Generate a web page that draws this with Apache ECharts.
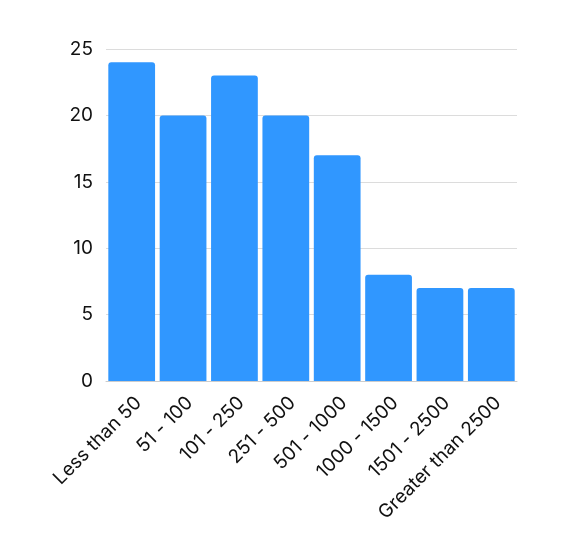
<!DOCTYPE html>
<html><head><meta charset="utf-8">
<script src="https://cdn.jsdelivr.net/npm/echarts@6/dist/echarts.min.js"></script>
<style>html,body{margin:0;padding:0;background:#fff}#c{width:561px;height:537px}</style>
</head><body><div id="c"></div>
<script>
const categories = ["Less than 50","51 - 100","101 - 250","251 - 500","501 - 1000","1000 - 1500","1501 - 2500","Greater than 2500"];
const values = [24,20,23,20,17,8,7,7];
const chart = echarts.init(document.getElementById('c'));
chart.setOption({
  animation:false,
  grid:{left:106,right:44,top:49,bottom:156,containLabel:false},
  xAxis:{type:'category',data:categories,
    axisLine:{lineStyle:{color:'#cccccc'}},axisTick:{show:false},
    axisLabel:{rotate:45,interval:0,color:'#111',fontFamily:'Inter',fontSize:19,margin:12,verticalAlign:'top'}},
  yAxis:{type:'value',min:0,max:25,interval:5,
    axisLine:{show:false},axisTick:{show:false},
    splitLine:{lineStyle:{color:'#dcdcdc'}},
    axisLabel:{color:'#111',fontFamily:'Inter',fontSize:19,margin:13}},
  series:[{type:'bar',data:values,barCategoryGap:'9%',
    itemStyle:{color:'#3097ff',borderRadius:[3,3,0,0]}}]
});
</script></body></html>
